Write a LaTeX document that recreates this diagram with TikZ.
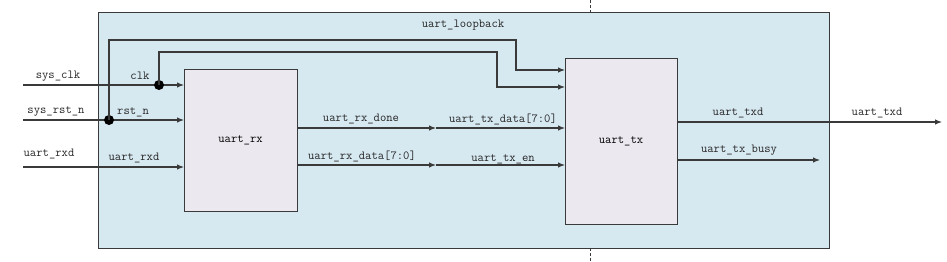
\documentclass[tikz,border=0pt]{standalone}
\usetikzlibrary{arrows.meta}
\definecolor{outerfill}{HTML}{D6E8F0}
\definecolor{blockfill}{HTML}{ECE8EF}
\definecolor{wire}{HTML}{3A3A3A}
\begin{document}
\begin{tikzpicture}[x=1pt,y=-1pt,
  font=\ttfamily\fontsize{12.3}{14}\selectfont,
  wireline/.style={draw=wire,line width=1.1pt},
  sig/.style={wireline,-{Latex[length=7pt,width=5.5pt]}},
  lbl/.style={inner sep=0pt,text=black!85},
  blockbox/.style={draw=wire,line width=1pt,fill=blockfill},
  joint/.style={circle,fill=black,inner sep=0pt,minimum size=10pt}]
\useasboundingbox (0,0) rectangle (947,262);
\node[draw=wire,line width=1pt,fill=outerfill,minimum width=731pt,minimum height=235pt,inner sep=0pt] (top) at (463.5,130.5) {};
\node[blockbox,minimum width=113pt,minimum height=142pt,inner sep=0pt] (rx) at (240.5,140) {uart\_rx};
\node[blockbox,minimum width=112pt,minimum height=165pt,inner sep=0pt] (tx) at (621,141.5) {uart\_tx};
% dashed marks
\coordinate (d1) at (590,0); \coordinate (d2) at (590,13);
\coordinate (d3) at (590,248); \coordinate (d4) at (590,262);
\draw[wire,dashed,line width=0.8pt,dash pattern=on 3pt off 2pt] (d1) -- (d2);
\draw[wire,dashed,line width=0.8pt,dash pattern=on 3pt off 2pt] (d3) -- (d4);
% inputs
\coordinate (clkin) at (23,85);
\coordinate (rstin) at (23,120);
\coordinate (rxdin) at (23,167);
\coordinate (rxclk) at (184,85);
\coordinate (rxrst) at (184,120);
\coordinate (rxrxd) at (184,167);
\draw[sig] (clkin) -- (rxclk);
\draw[sig] (rstin) -- (rxrst);
\draw[sig] (rxdin) -- (rxrxd);
\node[joint] (jclk) at (159,85) {};
\node[joint] (jrst) at (109,120) {};
\coordinate (txclk) at (565,87);
\coordinate (txrst) at (565,70);
\draw[sig] (jclk.center) |- (497,52) |- (txclk);
\draw[sig] (jrst.center) |- (516,40) |- (txrst);
% rx -> tx
\coordinate (rxdone) at (297,128);
\coordinate (m1) at (436,128);
\coordinate (txdata) at (565,128);
\coordinate (rxdata) at (297,165);
\coordinate (m2) at (436,165);
\coordinate (txen) at (565,165);
\draw[sig] (rxdone) -- (m1);
\draw[sig] (m1) -- (txdata);
\draw[sig] (rxdata) -- (m2);
\draw[sig] (m2) -- (txen);
% outputs
\coordinate (txd) at (677,122);
\coordinate (txdout) at (942,122);
\coordinate (busy) at (677,160);
\coordinate (busyout) at (820,160);
\draw[sig] (txd) -- (txdout);
\draw[sig] (busy) -- (busyout);
% labels
\node[lbl] (l1) at (58,76) {sys\_clk};
\node[lbl] (l2) at (140,76) {clk};
\node[lbl] (l3) at (56,111) {sys\_rst\_n};
\node[lbl] (l4) at (133,112) {rst\_n};
\node[lbl] (l5) at (49,154) {uart\_rxd};
\node[lbl] (l6) at (134,158) {uart\_rxd};
\node[lbl] (l7) at (463,25) {uart\_loopback};
\node[lbl] (l8) at (361,119) {uart\_rx\_done};
\node[lbl] (l9) at (503,119) {uart\_tx\_data[7:0]};
\node[lbl] (l10) at (362,156) {uart\_rx\_data[7:0]};
\node[lbl] (l11) at (503,159) {uart\_tx\_en};
\node[lbl] (l12) at (738,113) {uart\_txd};
\node[lbl] (l13) at (877,113) {uart\_txd};
\node[lbl] (l14) at (739,150) {uart\_tx\_busy};
\end{tikzpicture}
\end{document}
